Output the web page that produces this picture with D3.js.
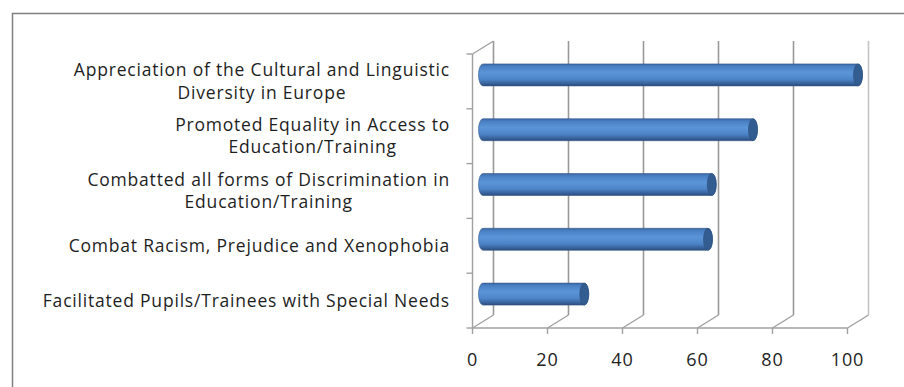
<!DOCTYPE html>
<html>
<head>
<meta charset="utf-8">
<script src="https://cdn.jsdelivr.net/npm/d3@7"></script>
<style>
  html, body { margin: 0; padding: 0; background: #fff; }
  svg { display: block; }
</style>
</head>
<body>
<div id="chart"></div>
<script>
(function () {
  'use strict';

  // Categories, top to bottom, each split into its printed lines
  var categories = [
    ['Appreciation of the Cultural and Linguistic', 'Diversity in Europe'],
    ['Promoted Equality in Access to', 'Education/Training'],
    ['Combatted all forms of Discrimination in', 'Education/Training'],
    ['Combat Racism, Prejudice and Xenophobia'],
    ['Facilitated Pupils/Trainees with Special Needs']
  ];
  var values = [100, 72, 61, 60, 27];
  var xTicks = [0, 20, 40, 60, 80, 100];

  var W = 904, H = 387;
  var depthX = 21, depthY = -13;   // 3D depth offset of the back wall
  var floorY = 328, topY = 54;
  var FONT = '"Open Sans", Lato, sans-serif';

  var svg = d3.select('#chart').append('svg')
    .attr('width', W).attr('height', H);

  // Outer chart border (runs off the right and bottom of the picture)
  svg.append('rect')
    .attr('x', 12.5).attr('y', 13.5)
    .attr('width', W + 20).attr('height', H + 20)
    .attr('fill', 'none').attr('stroke', '#808080').attr('stroke-width', 1.5);

  var x = d3.scaleLinear().domain([0, 100]).range([472.5, 847.5]);
  var y = d3.scaleBand().domain(d3.range(categories.length)).range([topY, floorY]).paddingInner(0);

  var grid = svg.append('g').attr('class', 'grid');

  // Back wall gridlines + floor diagonals
  xTicks.forEach(function (t, i) {
    var fx = x(t), bx = fx + depthX;
    var col = i === xTicks.length - 1 ? '#c4c4c4' : '#999';
    grid.append('line')
      .attr('x1', bx).attr('y1', topY + depthY).attr('x2', bx).attr('y2', floorY + depthY)
      .attr('stroke', col).attr('stroke-width', 1.6);
    grid.append('line')
      .attr('x1', bx).attr('y1', floorY + depthY).attr('x2', fx).attr('y2', floorY)
      .attr('stroke', '#a0a0a0').attr('stroke-width', 1.4);
  });

  // Left wall: front edge and top diagonal
  grid.append('line')
    .attr('x1', x(0)).attr('y1', topY).attr('x2', x(0)).attr('y2', floorY)
    .attr('stroke', '#a0a0a0').attr('stroke-width', 1.4);
  grid.append('line')
    .attr('x1', x(0)).attr('y1', topY).attr('x2', x(0) + depthX).attr('y2', topY + depthY)
    .attr('stroke', '#a0a0a0').attr('stroke-width', 1.4);

  // Category tick marks on the left wall
  d3.range(categories.length + 1).forEach(function (i) {
    var ty = topY + i * y.step();
    grid.append('line')
      .attr('x1', x(0) - 6).attr('y1', ty).attr('x2', x(0)).attr('y2', ty)
      .attr('stroke', '#a0a0a0').attr('stroke-width', 1.4);
  });

  // Front value axis
  grid.append('line')
    .attr('x1', x(0)).attr('y1', floorY).attr('x2', x(100)).attr('y2', floorY)
    .attr('stroke', '#a0a0a0').attr('stroke-width', 1.4);
  xTicks.forEach(function (t) {
    grid.append('line')
      .attr('x1', x(t)).attr('y1', floorY).attr('x2', x(t)).attr('y2', floorY + 6)
      .attr('stroke', '#a0a0a0').attr('stroke-width', 1.4);
    svg.append('text')
      .attr('x', x(t)).attr('y', 366)
      .attr('text-anchor', 'middle')
      .style('font-family', FONT).style('font-size', '18px')
      .style('letter-spacing', '0.9px')
      .attr('fill', '#222')
      .text(t);
  });

  // Cylinder gradient
  var defs = svg.append('defs');
  var grad = defs.append('linearGradient').attr('id', 'cyl')
    .attr('x1', 0).attr('y1', 0).attr('x2', 0).attr('y2', 1);
  grad.append('stop').attr('offset', '0%').attr('stop-color', '#3b68a3');
  grad.append('stop').attr('offset', '12%').attr('stop-color', '#4a80c4');
  grad.append('stop').attr('offset', '40%').attr('stop-color', '#5b95d8');
  grad.append('stop').attr('offset', '70%').attr('stop-color', '#4d84c8');
  grad.append('stop').attr('offset', '92%').attr('stop-color', '#345d94');
  grad.append('stop').attr('offset', '100%').attr('stop-color', '#2a4a76');

  var r = 11, rx = 4.5;
  var bars = svg.append('g').attr('class', 'bars');
  values.forEach(function (v, i) {
    var cy = y(i) + y.bandwidth() / 2 + depthY / 2;
    var x0 = x(0) + depthX / 2, x1 = x(v) + depthX / 2;
    bars.append('path')
      .attr('d', 'M' + x0 + ',' + (cy - r) + 'L' + x1 + ',' + (cy - r) +
        'A' + rx + ',' + r + ' 0 0 1 ' + x1 + ',' + (cy + r) +
        'L' + x0 + ',' + (cy + r) +
        'A' + rx + ',' + r + ' 0 0 1 ' + x0 + ',' + (cy - r) + 'Z')
      .attr('fill', 'url(#cyl)').attr('stroke', '#35598a').attr('stroke-width', 0.6);
    bars.append('ellipse')
      .attr('cx', x1).attr('cy', cy).attr('rx', rx).attr('ry', r)
      .attr('fill', '#335c90').attr('stroke', '#2c5080').attr('stroke-width', 0.6);
  });

  // Category labels: lines centred on each other, block right-aligned
  var labelRight = 450, lineH = 22.5;
  categories.forEach(function (lines, i) {
    var cyBand = y(i) + y.bandwidth() / 2;
    var g = svg.append('g');
    var t = g.append('text')
      .style('font-family', FONT).style('font-size', '17.5px')
      .style('letter-spacing', '0.8px')
      .attr('fill', '#1e1e1e').attr('text-anchor', 'middle');
    var first = cyBand - (lines.length - 1) * lineH / 2 + 6;
    lines.forEach(function (ln, k) {
      t.append('tspan').attr('x', 0).attr('y', first + k * lineH).text(ln);
    });
    var w = t.node().getBBox().width;
    g.attr('transform', 'translate(' + (labelRight - w / 2) + ',0)');
  });
})();
</script>
</body>
</html>
